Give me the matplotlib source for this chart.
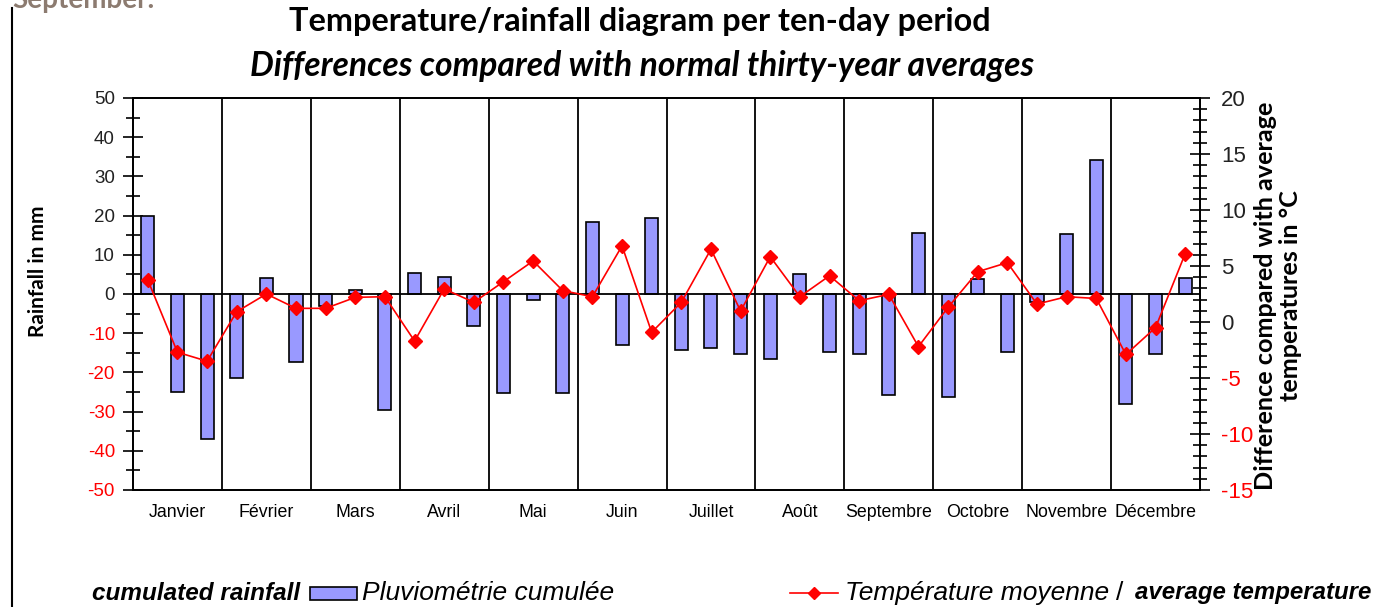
import matplotlib
matplotlib.use("Agg")
import matplotlib.pyplot as plt
from matplotlib.patches import Rectangle
from matplotlib.lines import Line2D
import numpy as np

months = ["Janvier", "Février", "Mars", "Avril", "Mai", "Juin", "Juillet",
          "Août", "Septembre", "Octobre", "Novembre", "Décembre"]

# rainfall difference (mm) per ten-day period
rainfall = [20, -25, -37, -21.5, 4, -17.3, -3, 1, -29.6,
            5.3, 4.3, -8.2, -25.3, -1.5, -25.3, 18.4, -13, 19.5,
            -14.3, -13.9, -15.3, -16.7, 5.2, -14.9, -15.3, -25.8, 15.6,
            -26.2, 3.7, -14.9, -2, 15.2, 34.2, -28.1, -15.3, 4.2]

# temperature difference (°C) per ten-day period
temperature = [3.75, -2.7, -3.5, 0.92, 2.5, 1.22, 1.22, 2.2, 2.26,
               -1.7, 2.95, 1.76, 3.6, 5.45, 2.8, 2.26, 6.8, -0.92,
               1.76, 6.5, 0.98, 5.83, 2.26, 4.13, 1.9, 2.47, -2.2,
               1.31, 4.49, 5.3, 1.6, 2.26, 2.1, -2.9, -0.5, 6.1]

left_ticks = [50, 40, 30, 20, 10, 0, -10, -20, -30, -40, -50]
right_ticks = [20, 15, 10, 5, 0, -5, -10, -15]

W, H = 1396, 607
fig = plt.figure(figsize=(W / 100, H / 100), dpi=100)

def fx(px):
    return px / W

def fy(py):
    return 1 - py / H

ax = fig.add_axes([fx(133), fy(490), fx(1200) - fx(133), fy(98) - fy(490)])
ax2 = ax.twinx()

x = np.arange(len(rainfall))
ax.bar(x, rainfall, width=0.44, color="#9999FF", edgecolor="black", linewidth=1.2, zorder=3)
ax.axhline(0, color="black", lw=1.3, zorder=4)
for b in np.arange(2.5, 35, 3):
    ax.axvline(b, color="black", lw=1.3, zorder=2)

tick_font = ["Liberation Sans", "DejaVu Sans"]
ax.set_xlim(-0.5, 35.5)
ax.set_ylim(-50, 50)
ax.set_xticks(np.arange(1, 36, 3))
ax.set_xticklabels(months, fontsize=12.8, family=tick_font)
ax.tick_params(axis="x", length=0, pad=10)
ax.set_yticks(left_ticks)
ax.set_yticks(np.arange(-45, 50, 10), minor=True)
ax.set_yticklabels([str(v) for v in left_ticks], fontsize=13.5, family=tick_font)
for lab, v in zip(ax.get_yticklabels(), left_ticks):
    lab.set_color("red" if v < 0 else "#222222")
ax.tick_params(axis="y", which="major", direction="inout", length=14, width=1.2, pad=6)
ax.tick_params(axis="y", which="minor", direction="inout", length=10, width=1.2)

ax2.plot(x, temperature, color="red", lw=1.2, marker="D", markersize=7, zorder=5)
ax2.set_ylim(-15, 20)
ax2.set_yticks(right_ticks)
ax2.set_yticks(np.arange(-15, 21, 1), minor=True)
ax2.set_yticklabels([str(v) for v in right_ticks], fontsize=16, family=tick_font)
for lab, v in zip(ax2.get_yticklabels(), right_ticks):
    lab.set_color("red" if v < 0 else "#222222")
ax2.tick_params(axis="y", which="major", direction="inout", length=14, width=1.2, pad=8)
ax2.tick_params(axis="y", which="minor", direction="inout", length=10, width=1.2)

for a in (ax, ax2):
    for s in a.spines.values():
        s.set_linewidth(1.3)
        s.set_color("black")

title_font = ["Lato", "DejaVu Sans"]
fig.text(fx(640), fy(22), "Temperature/rainfall diagram per ten-day period",
         ha="center", va="center", fontsize=23.3, fontweight="bold", family=title_font)
fig.text(fx(642), fy(66), "Differences compared with normal thirty-year averages",
         ha="center", va="center", fontsize=24.2, fontweight="bold", style="italic", family=title_font)

fig.text(fx(38), fy(271), "Rainfall in mm", rotation=90, ha="center", va="center",
         fontsize=15, fontweight="bold", family=title_font)
fig.text(fx(1278), fy(296), "Difference compared with average\ntemperatures in °C", rotation=90,
         ha="center", va="center", fontsize=18.2, fontweight="bold", family=title_font,
         linespacing=1.15)

fig.text(fx(12), fy(0), "September.", ha="left", va="center", fontsize=20, fontweight="bold",
         color="#8C7B70", family=title_font)
fig.add_artist(Line2D([fx(12), fx(12)], [fy(8), fy(607)], color="black", lw=1.5))

leg_font = ["Liberation Sans Narrow", "Liberation Sans", "DejaVu Sans"]
fig.text(fx(92), fy(593), "cumulated rainfall", ha="left", va="center", fontsize=17.5,
         fontweight="bold", style="italic", family=leg_font)
fig.add_artist(Rectangle((fx(310), fy(600)), fx(357) - fx(310), fy(587) - fy(600),
                         facecolor="#9999FF", edgecolor="black", lw=1.2))
fig.text(fx(362), fy(593), "Pluviométrie cumulée", ha="left", va="center", fontsize=19,
         style="italic", family=leg_font)

fig.add_artist(Line2D([fx(790), fx(838)], [fy(593), fy(593)], color="red", lw=1.2))
fig.add_artist(Line2D([fx(814)], [fy(593)], color="red", marker="D", markersize=6, lw=0))
fig.text(fx(845), fy(593), "Température moyenne", ha="left", va="center", fontsize=19,
         style="italic", family=leg_font)
fig.text(fx(1116), fy(593), "/", ha="left", va="center", fontsize=19, family=leg_font)
fig.text(fx(1135), fy(593), "average temperature", ha="left", va="center", fontsize=17.3,
         fontweight="bold", style="italic", family=leg_font)

fig.savefig("out.png", dpi=100)
